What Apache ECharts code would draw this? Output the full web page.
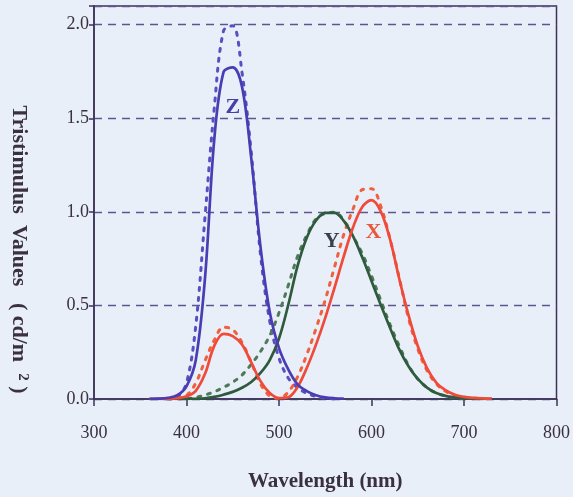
<!DOCTYPE html>
<html>
<head>
<meta charset="utf-8">
<script src="https://cdn.jsdelivr.net/npm/echarts@6/dist/echarts.min.js"></script>
<style>
html,body{margin:0;padding:0;background:#e8eff8;}
#chart{width:573px;height:497px;}
</style>
</head>
<body>
<div id="chart"></div>
<script>
// Wavelengths (nm)
var wavelengths = [360,370,380,390,400,410,420,430,440,450,460,470,480,490,500,510,520,530,540,550,560,570,580,590,600,610,620,630,640,650,660,670,680,690,700,710,720,730];
// Solid curves (2-degree observer)
var xSolid = [0.0001,0.0004,0.0014,0.0042,0.0143,0.0435,0.1344,0.2839,0.3483,0.3362,0.2908,0.1954,0.0956,0.0320,0.0049,0.0093,0.0633,0.1655,0.2904,0.4334,0.5945,0.7621,0.9163,1.0263,1.0622,1.0026,0.8544,0.6424,0.4479,0.2835,0.1649,0.0874,0.0468,0.0227,0.0114,0.0058,0.0029,0.0014];
var ySolid = [0,0,0,0.0001,0.0004,0.0012,0.0040,0.0116,0.0230,0.0380,0.0600,0.0910,0.1390,0.2080,0.3230,0.5030,0.7100,0.8620,0.9540,0.9950,0.9950,0.9520,0.8700,0.7570,0.6310,0.5030,0.3810,0.2650,0.1750,0.1070,0.0610,0.0320,0.0170,0.0082,0.0041,0.0021,0.0010,0.0005];
var zSolid = [0.0006,0.0019,0.0065,0.0201,0.0679,0.2074,0.6456,1.3856,1.7471,1.7721,1.6692,1.2876,0.8130,0.4652,0.2720,0.1582,0.0782,0.0422,0.0203,0.0087,0.0039,0.0021,null,null,null,null,null,null,null,null,null,null,null,null,null,null,null,null];
// Dotted curves (10-degree observer)
var xDotted = [null,null,0.0002,0.0024,0.0191,0.0847,0.2045,0.3147,0.3837,0.3707,0.3023,0.1956,0.0805,0.0162,0.0038,0.0375,0.1177,0.2365,0.3768,0.5298,0.7052,0.8787,1.0142,1.1185,1.1240,1.0305,0.8563,0.6475,0.4316,0.2683,0.1526,0.0813,0.0409,0.0199,0.0096,0.0046,0.0022,null];
var yDotted = [null,null,0,0.0003,0.0020,0.0088,0.0214,0.0387,0.0621,0.0895,0.1282,0.1852,0.2536,0.3391,0.4608,0.6067,0.7618,0.8752,0.9620,0.9918,0.9973,0.9556,0.8689,0.7774,0.6583,0.5280,0.3981,0.2835,0.1798,0.1076,0.0603,0.0318,0.0159,0.0077,0.0037,0.0018,0.0008,null];
var zDotted = [null,null,0.0007,0.0105,0.0860,0.3894,0.9725,1.5535,1.9673,1.9948,1.7454,1.3176,0.7721,0.4153,0.2185,0.1120,0.0607,0.0305,0.0137,0.0040,0,null,null,null,null,null,null,null,null,null,null,null,null,null,null,null,null,null];
// Curve labels [wavelength, value, text]
var curveLabels = [[450,1.56,'Z'],[557,0.84,'Y'],[602,0.89,'X']];
var yTicks = [0,0.5,1.0,1.5,2.0];

function pairs(arr){
  return wavelengths.map(function(w,i){ return [w, arr[i]]; });
}
var serif = '"Liberation Serif","DejaVu Serif",serif';
var BLUE='#4a3db3', RED='#ef4a3a', GREEN='#2f5a3e';
function solid(name,arr,color,labelIdx,labelColor){
  var s = {name:name,type:'line',data:pairs(arr),showSymbol:false,symbol:'none',smooth:0.35,connectNulls:false,
    lineStyle:{color:color,width:2.7},z:3,silent:true};
  if(labelIdx!=null){
    var L = curveLabels[labelIdx];
    s.markPoint = {symbol:'circle',symbolSize:1,silent:true,
      itemStyle:{color:'rgba(0,0,0,0)'},
      label:{show:true,position:'inside',formatter:L[2],color:labelColor,fontFamily:serif,fontWeight:'bold',fontSize:22},
      data:[{coord:[L[0],L[1]]}]};
  }
  return s;
}
function dotted(name,arr,color){
  return {name:name,type:'line',data:pairs(arr),showSymbol:false,symbol:'none',smooth:0.35,connectNulls:false,
    lineStyle:{color:color,width:3,type:[3,7],cap:'round'},z:2,silent:true};
}
var chart = echarts.init(document.getElementById('chart'),null,{renderer:'canvas'});
chart.setOption({
  backgroundColor:'#e8eff8',
  animation:false,
  grid:{left:94,right:7,top:6,bottom:96,show:true,borderColor:'#3b3358',borderWidth:1.5,backgroundColor:'transparent'},
  xAxis:{type:'value',min:300,max:800,interval:100,
    name:'Wavelength (nm)',nameLocation:'middle',nameGap:72,
    nameTextStyle:{fontFamily:serif,fontWeight:'bold',fontSize:21,color:'#3a3040'},
    axisLine:{show:true,lineStyle:{color:'#3b3358',width:1.5}},
    axisTick:{show:true,length:7,lineStyle:{color:'#3b3358',width:1.5}},
    axisLabel:{margin:25,fontFamily:serif,fontSize:18,color:'#3a3040'},
    splitLine:{show:false}},
  yAxis:{type:'value',min:0,max:2.1,interval:0.5,
    name:'Tristimulus  Values   ( cd/m  {sup|2} )',nameLocation:'middle',nameGap:64,nameRotate:-90,
    nameTextStyle:{fontFamily:serif,fontWeight:'bold',fontSize:22,color:'#3a3040',padding:[0,0,0,94],
      rich:{sup:{fontFamily:serif,fontWeight:'bold',fontSize:15,color:'#3a3040',verticalAlign:'top',lineHeight:15}}},
    axisLine:{show:true,lineStyle:{color:'#3b3358',width:1.5}},
    axisTick:{show:true,length:5,lineStyle:{color:'#3b3358',width:1.5}},
    axisLabel:{margin:5,fontFamily:serif,fontSize:18,color:'#3a3040',
      formatter:function(v){ return yTicks.indexOf(v)>=0 ? v.toFixed(1) : ''; }},
    splitLine:{show:true,lineStyle:{color:'#5e5590',width:1.4,type:[8,6]}}},
  series:[
    dotted('z10',zDotted,'#5a4ec0'),
    dotted('y10',yDotted,'#4d7a57'),
    dotted('x10',xDotted,'#f0603c'),
    solid('y',ySolid,GREEN,1,'#3a4050'),
    solid('x',xSolid,RED,2,'#e8583a'),
    solid('z',zSolid,BLUE,0,'#4a3fa8')
  ]
});
</script>
</body>
</html>
